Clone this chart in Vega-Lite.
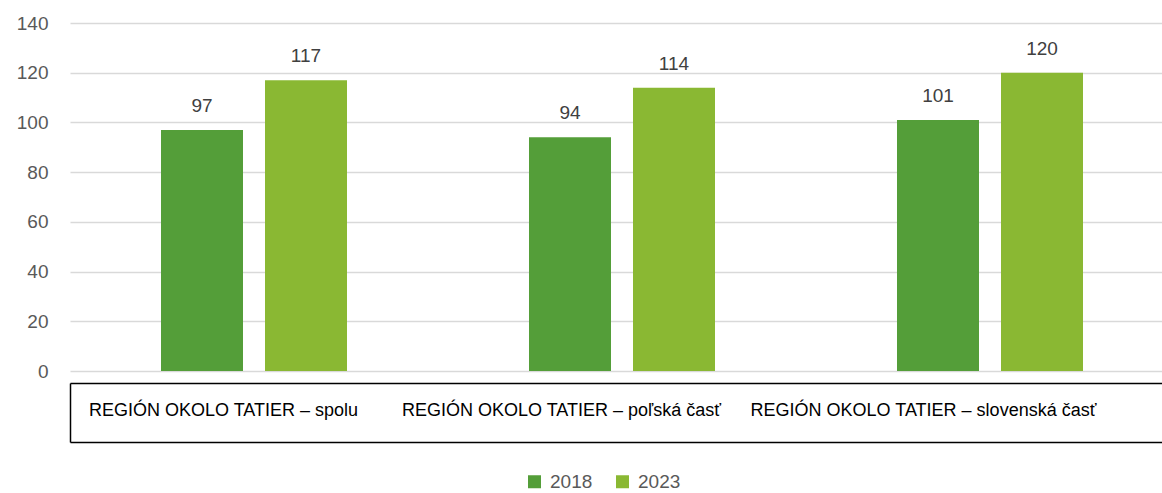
{
  "$schema": "https://vega.github.io/schema/vega-lite/v6.json",
  "width": 1092,
  "height": 348,
  "autosize": {"type": "none"},
  "padding": {"left": 70, "top": 23, "right": 0, "bottom": 122},
  "background": "white",
  "config": {"view": {"stroke": null}, "font": "Liberation Sans"},
  "data": {
    "values": [
      {"region": "REGIÓN OKOLO TATIER – spolu", "year": "2018", "value": 97},
      {"region": "REGIÓN OKOLO TATIER – spolu", "year": "2023", "value": 117},
      {"region": "REGIÓN OKOLO TATIER – poľská časť", "year": "2018", "value": 94},
      {"region": "REGIÓN OKOLO TATIER – poľská časť", "year": "2023", "value": 114},
      {"region": "REGIÓN OKOLO TATIER – slovenská časť", "year": "2018", "value": 101},
      {"region": "REGIÓN OKOLO TATIER – slovenská časť", "year": "2023", "value": 120}
    ]
  },
  "encoding": {
    "xOffset": {"field": "year", "type": "nominal", "scale": {"paddingInner": 0.2115, "paddingOuter": 0.875}},
    "y": {
      "field": "value", "type": "quantitative",
      "scale": {"domain": [0, 140]},
      "axis": {
        "title": null, "values": [0, 20, 40, 60, 80, 100, 120, 140],
        "grid": true, "gridColor": "#D9D9D9", "gridWidth": 1.5,
        "domain": false, "ticks": false,
        "labelFontSize": 19, "labelColor": "#595959", "labelPadding": 22
      }
    }
  },
  "layer": [
    {
      "mark": {"type": "bar"},
      "encoding": {
        "x": {
          "field": "region", "type": "nominal", "sort": null,
          "scale": {"range": [0, 1104], "paddingInner": 0, "paddingOuter": 0},
          "axis": {
            "title": null, "orient": "bottom", "offset": 12, "grid": false,
            "domainColor": "#000000", "domainWidth": 1.5,
            "tickBand": "extent", "tickExtra": true, "tickSize": 59, "tickWidth": 1.5,
            "tickColor": {"condition": {"test": "indexof(['REGIÓN OKOLO TATIER – spolu', 'REGIÓN OKOLO TATIER – poľská časť', 'REGIÓN OKOLO TATIER – slovenská časť'], datum.value) >= 0", "value": "transparent"}, "value": "#000000"},
            "labelFontSize": 18, "labelColor": "#000000", "labelPadding": -32,
            "labelBaseline": "middle", "labelAngle": 0, "labelLimit": 0,
            "labelOffset": {"condition": [
              {"test": "datum.value === 'REGIÓN OKOLO TATIER – spolu'", "value": -31},
              {"test": "datum.value === 'REGIÓN OKOLO TATIER – poľská časť'", "value": -61}
            ], "value": -67}
          }
        },
        "color": {
          "field": "year", "type": "nominal",
          "scale": {"domain": ["2018", "2023"], "range": ["#549E39", "#8AB833"]},
          "legend": {
            "title": null, "orient": "none", "legendX": 455, "legendY": 449,
            "direction": "horizontal", "symbolType": "square", "symbolSize": 169,
            "symbolStrokeWidth": 0, "labelFontSize": 19, "labelColor": "#595959",
            "columnPadding": 20, "labelOffset": 6
          }
        }
      }
    },
    {
      "mark": {"type": "text", "baseline": "alphabetic", "dy": -18, "fontSize": 19, "color": "#404040"},
      "encoding": {
        "x": {
          "field": "region", "type": "nominal", "sort": null,
          "axis": {
            "title": null, "orient": "bottom", "offset": 71, "grid": false,
            "domainColor": "#000000", "domainWidth": 1.5,
            "ticks": false, "labels": false
          }
        },
        "text": {"field": "value", "type": "quantitative"}
      }
    }
  ],
  "resolve": {"axis": {"x": "independent"}}
}
